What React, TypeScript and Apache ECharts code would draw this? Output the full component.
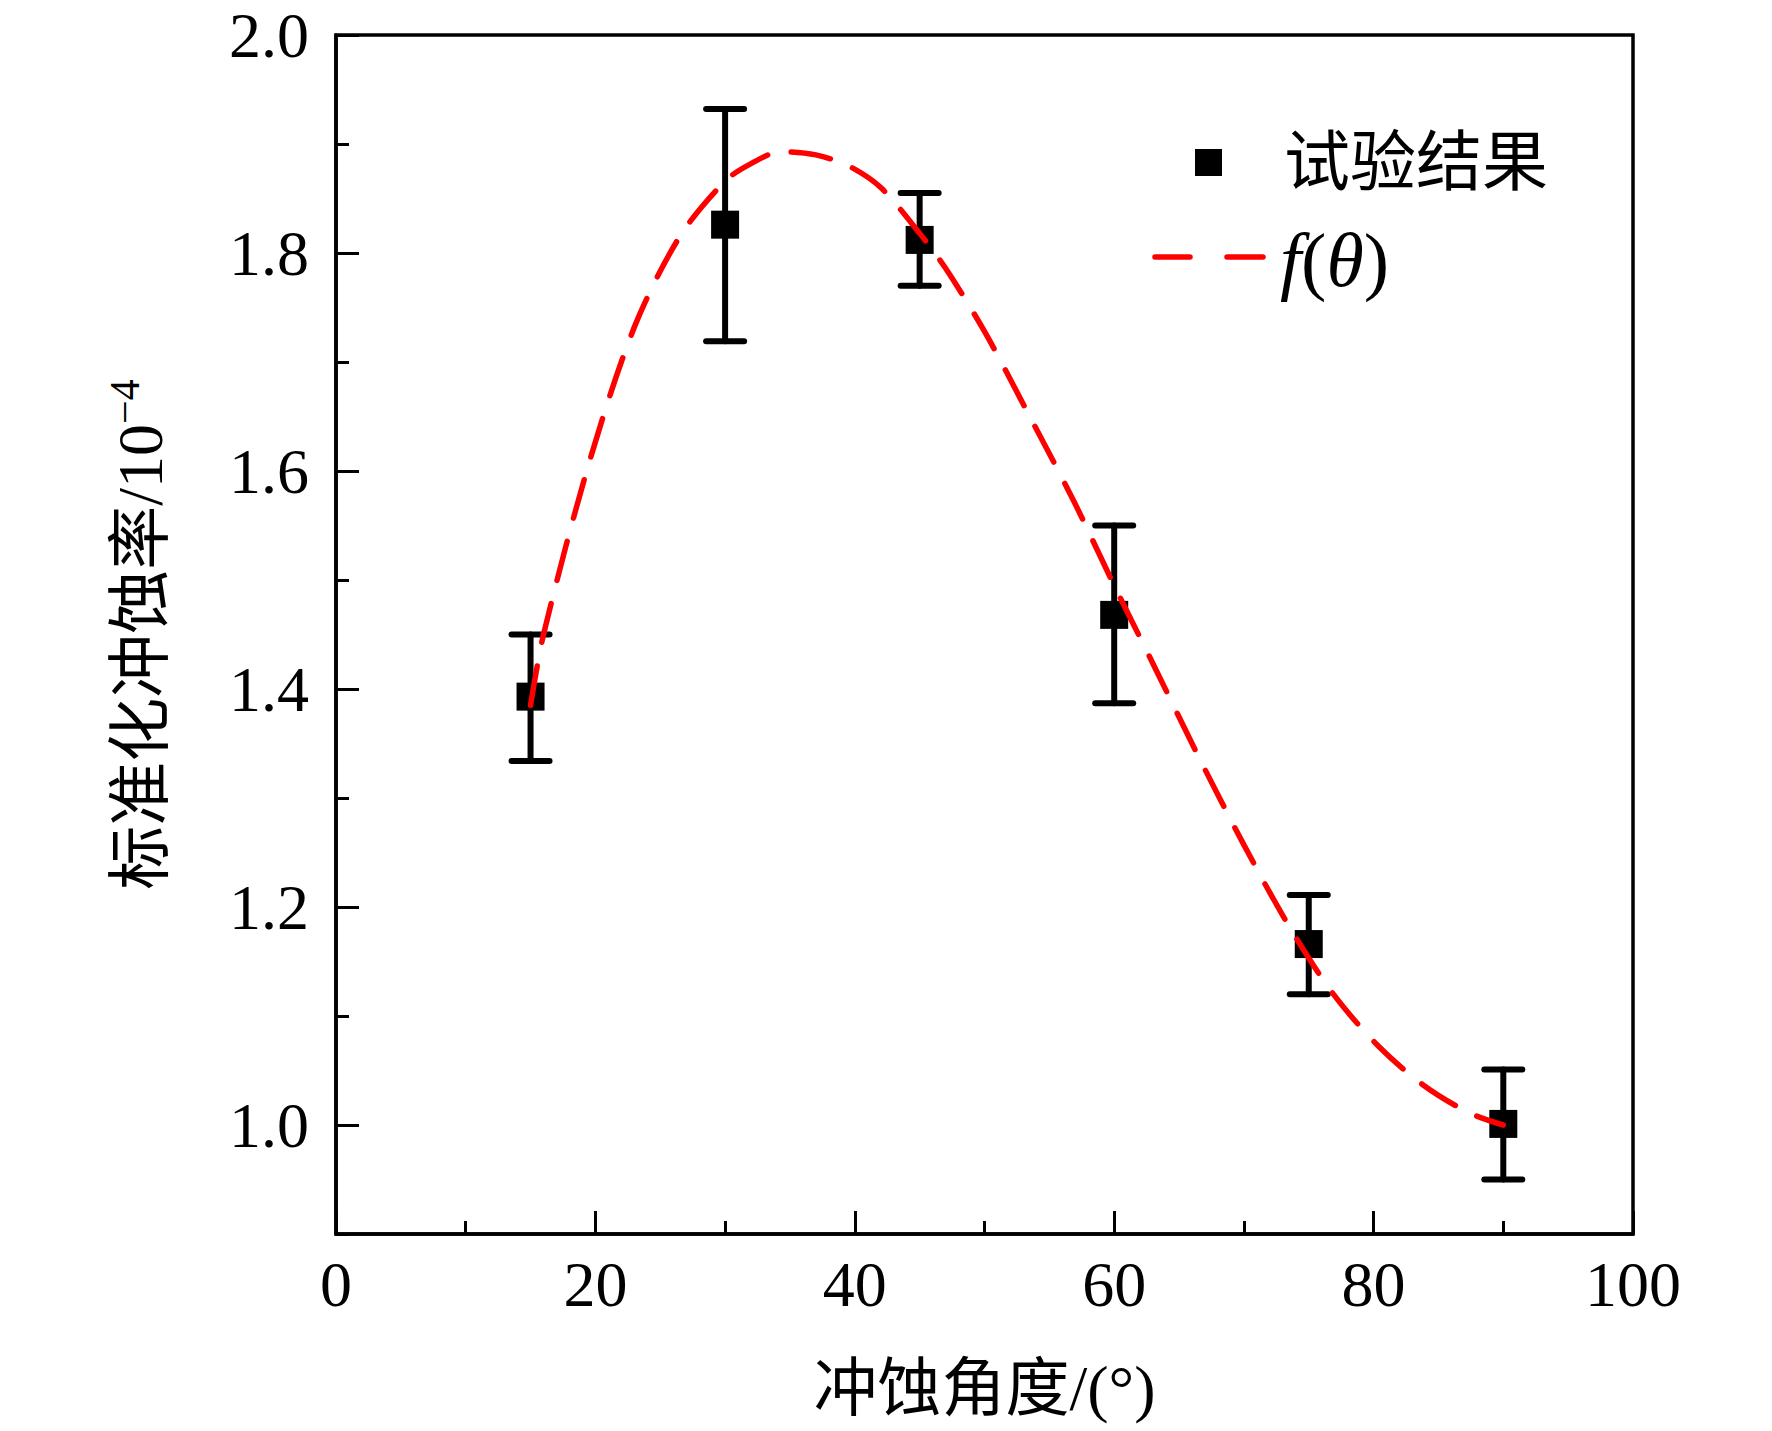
import React, { useEffect, useRef } from "react";
import * as echarts from "echarts";

const angles = [15, 30, 45, 60, 75, 90];
const rates = [1.393, 1.826, 1.812, 1.468, 1.166, 1.001];
const errLow = [1.334, 1.719, 1.770, 1.387, 1.120, 0.950];
const errHigh = [1.450, 1.932, 1.855, 1.550, 1.211, 1.051];

const fitX = [15, 16, 19.5, 23, 26.5, 30, 32, 34.3, 37, 39.5, 42, 45, 47, 50, 53.4, 56.9, 60, 63, 66.5, 70, 73.5, 76.9, 80.4, 83.9, 87.4, 90];
const fitY = [1.385, 1.45, 1.607, 1.732, 1.815, 1.866, 1.882, 1.893, 1.89, 1.88, 1.86, 1.818, 1.786, 1.728, 1.652, 1.572, 1.495, 1.423, 1.338, 1.257, 1.182, 1.12, 1.072, 1.036, 1.011, 1.0];

const xTicks = [0, 20, 40, 60, 80, 100];
const yTicks = [1.0, 1.2, 1.4, 1.6, 1.8, 2.0];

const seriesNames = ["试验结果", "f(θ)"];
const xTitle = "冲蚀角度/(°)";
const yTitle = "标准化冲蚀率/10";
const ySup = "−4";

const FONT = "'Liberation Serif', 'Noto Sans CJK SC', serif";

export default function App() {
  const ref = useRef<HTMLDivElement>(null);
  useEffect(() => {
    if (!ref.current) return;
    const chart = echarts.init(ref.current, undefined, { renderer: "svg" });
    const scatterData = angles.map((a, i) => [a, rates[i]]);
    const errData = angles.map((a, i) => [a, errLow[i], errHigh[i]]);
    const fitData = fitX.map((x, i) => [x, fitY[i]]);
    const capHalf = 19;
    chart.setOption({
      animation: false,
      backgroundColor: "#fff",
      textStyle: { fontFamily: FONT },
      grid: {
        left: 336,
        right: 139,
        top: 35,
        bottom: 197,
        show: true,
        borderColor: "#000",
        borderWidth: 3.5,
      },
      xAxis: {
        type: "value",
        min: 0,
        max: 100,
        interval: 20,
        axisLine: { show: true, onZero: false, lineStyle: { color: "#000", width: 3.5 } },
        axisTick: { show: true, inside: true, length: 23, lineStyle: { color: "#000", width: 3 }, customValues: xTicks },
        minorTick: { show: true, splitNumber: 2, length: 13, lineStyle: { color: "#000", width: 3 } },
        splitLine: { show: false },
        axisLabel: {
          customValues: xTicks,
          margin: 18,
          fontSize: 64,
          color: "#000",
          fontFamily: FONT,
        },
        name: xTitle,
        nameLocation: "middle",
        nameGap: 122,
        nameTextStyle: { fontSize: 64, color: "#000", fontFamily: FONT },
      },
      yAxis: [
        {
          type: "value",
          min: 0.9,
          max: 2.0,
          position: "left",
          axisLine: { show: true, onZero: false, lineStyle: { color: "#000", width: 3.5 } },
          axisTick: { show: true, inside: true, length: 23, lineStyle: { color: "#000", width: 3 }, customValues: yTicks },
          splitLine: { show: false },
          axisLabel: {
            customValues: yTicks,
            margin: 27,
            fontSize: 64,
            color: "#000",
            fontFamily: FONT,
            formatter: (v: number) => v.toFixed(1),
          },
          name: yTitle + "{sup|" + ySup + "}",
          nameLocation: "middle",
          nameGap: 160,
          nameRotate: 90,
          nameTextStyle: {
            fontSize: 64,
            color: "#000",
            fontFamily: FONT,
            rich: {
              sup: { fontSize: 42, verticalAlign: "top", padding: [0, 0, 30, 0], fontFamily: FONT, color: "#000" },
            },
          },
        },
        {
          type: "value",
          min: 0.9,
          max: 2.0,
          interval: 0.1,
          position: "left",
          axisLine: { show: false },
          axisTick: { show: true, inside: true, length: 13, lineStyle: { color: "#000", width: 3 } },
          splitLine: { show: false },
          axisLabel: { show: false },
        },
      ],
      series: [
        {
          name: "err",
          type: "custom",
          z: 2,
          data: errData,
          renderItem: (params: any, api: any) => {
            const x = api.value(0);
            const lo = api.coord([x, api.value(1)]);
            const hi = api.coord([x, api.value(2)]);
            const style = { stroke: "#000", lineWidth: 6, lineCap: "round" };
            return {
              type: "group",
              children: [
                { type: "line", shape: { x1: lo[0], y1: lo[1], x2: hi[0], y2: hi[1] }, style },
                { type: "line", shape: { x1: lo[0] - capHalf, y1: lo[1], x2: lo[0] + capHalf, y2: lo[1] }, style },
                { type: "line", shape: { x1: hi[0] - capHalf, y1: hi[1], x2: hi[0] + capHalf, y2: hi[1] }, style },
              ],
            };
          },
        },
        {
          name: seriesNames[0],
          type: "scatter",
          z: 3,
          symbol: "rect",
          symbolSize: 28,
          itemStyle: { color: "#000", opacity: 1 },
          data: scatterData,
        },
        {
          name: seriesNames[1],
          type: "line",
          z: 4,
          smooth: 0.3,
          showSymbol: false,
          symbol: "none",
          lineStyle: { color: "#ff0000", width: 5.5, type: [40, 24], cap: "round" },
          data: fitData,
        },
      ],
      graphic: [
        { type: "rect", shape: { x: 1195, y: 149, width: 27, height: 27 }, style: { fill: "#000" } },
        {
          type: "text",
          x: 1284,
          y: 162,
          style: { text: seriesNames[0], fontSize: 66, fontFamily: FONT, fill: "#000", verticalAlign: "middle" },
        },
        { type: "line", shape: { x1: 1155, y1: 257, x2: 1190, y2: 257 }, style: { stroke: "#ff0000", lineWidth: 5.5, lineCap: "round" } },
        { type: "line", shape: { x1: 1227, y1: 257, x2: 1263, y2: 257 }, style: { stroke: "#ff0000", lineWidth: 5.5, lineCap: "round" } },
        {
          type: "text",
          x: 1280,
          y: 260,
          style: {
            text: "{i|f}({i|θ})",
            fontSize: 76,
            fontFamily: FONT,
            fill: "#000",
            verticalAlign: "middle",
            rich: {
              i: { fontStyle: "italic", fontSize: 76, fontFamily: FONT, fill: "#000" },
            },
          },
        },
      ],
    });
    return () => chart.dispose();
  }, []);
  return (
    <div
      ref={ref}
      style={{ position: "fixed", left: 0, top: 0, width: 1772, height: 1431, background: "#fff" }}
    />
  );
}
